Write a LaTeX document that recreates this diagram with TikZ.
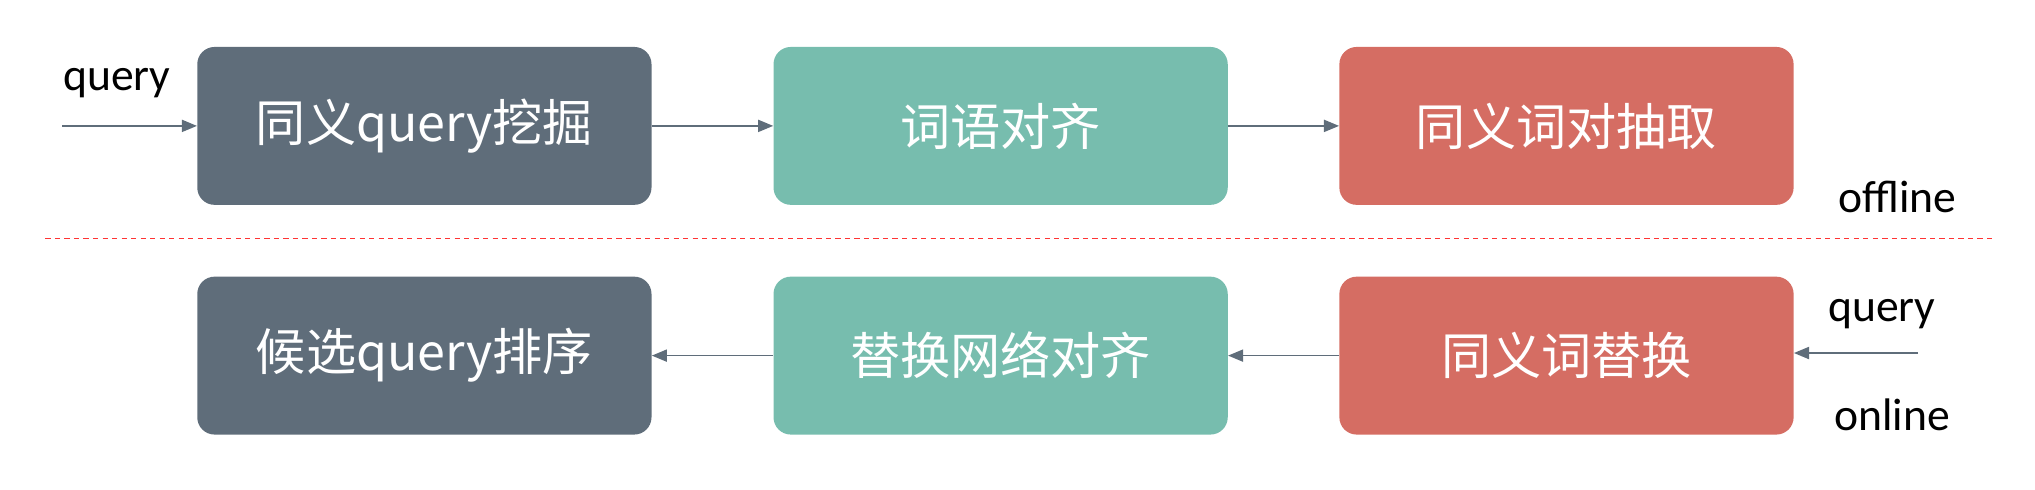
\documentclass[tikz,border=0pt]{standalone}
\usepackage{fontspec}
\setmainfont{Carlito}
\newfontfamily\cjk{Noto Sans CJK SC}
\usetikzlibrary{arrows.meta}
\begin{document}
\begin{tikzpicture}[x=0.3mm,y=-0.3mm,
  box/.style={rounded corners=4mm,minimum width=105mm,minimum height=36.5mm,text=white,font=\cjk\fontsize{33}{36}\selectfont,inner sep=0pt},
  c1/.style={box,fill=gray1},c2/.style={box,fill=teal1},c3/.style={box,fill=red1},
  arr/.style={draw=gray1,-{Triangle[length=3.5mm,width=2.8mm]},line width=0.4mm},
  lbl/.style={font=\fontsize{30}{32}\selectfont,inner sep=0pt}]
\definecolor{gray1}{HTML}{5F6D7A}\definecolor{teal1}{HTML}{77BDAE}\definecolor{red1}{HTML}{D56D63}
\useasboundingbox (0,0) rectangle (1568,377);
\node[c1] (a1) at (327,97) {同义query挖掘};
\node[c2] (a2) at (771,97) {词语对齐};
\node[c3] (a3) at (1207,97) {同义词对抽取};
\node[c1] (b1) at (327,274) {候选query排序};
\node[c2] (b2) at (771,274) {替换网络对齐};
\node[c3] (b3) at (1207,274) {同义词替换};
\coordinate (qa) at (48,97);
\coordinate (qb) at (1478,272);
\node[lbl] (q1) at (90,64) {query};
\node[lbl] (off) at (1462,152) {offline};
\node[lbl] (q2) at (1450,242) {query};
\node[lbl] (on) at (1458,320) {online};
\draw[arr] (qa) -- (a1);
\draw[arr] (a1) -- (a2);
\draw[arr] (a2) -- (a3);
\draw[arr] (qb) -- (qb-|b3.east);
\draw[arr] (b3) -- (b2);
\draw[arr] (b2) -- (b1);
\coordinate (d1) at (35,184); \coordinate (d2) at (1535,184);
\draw[red!80!white,dashed,line width=0.3mm,dash pattern=on 1.2mm off 1mm] (d1) -- (d2);
\end{tikzpicture}
\end{document}
